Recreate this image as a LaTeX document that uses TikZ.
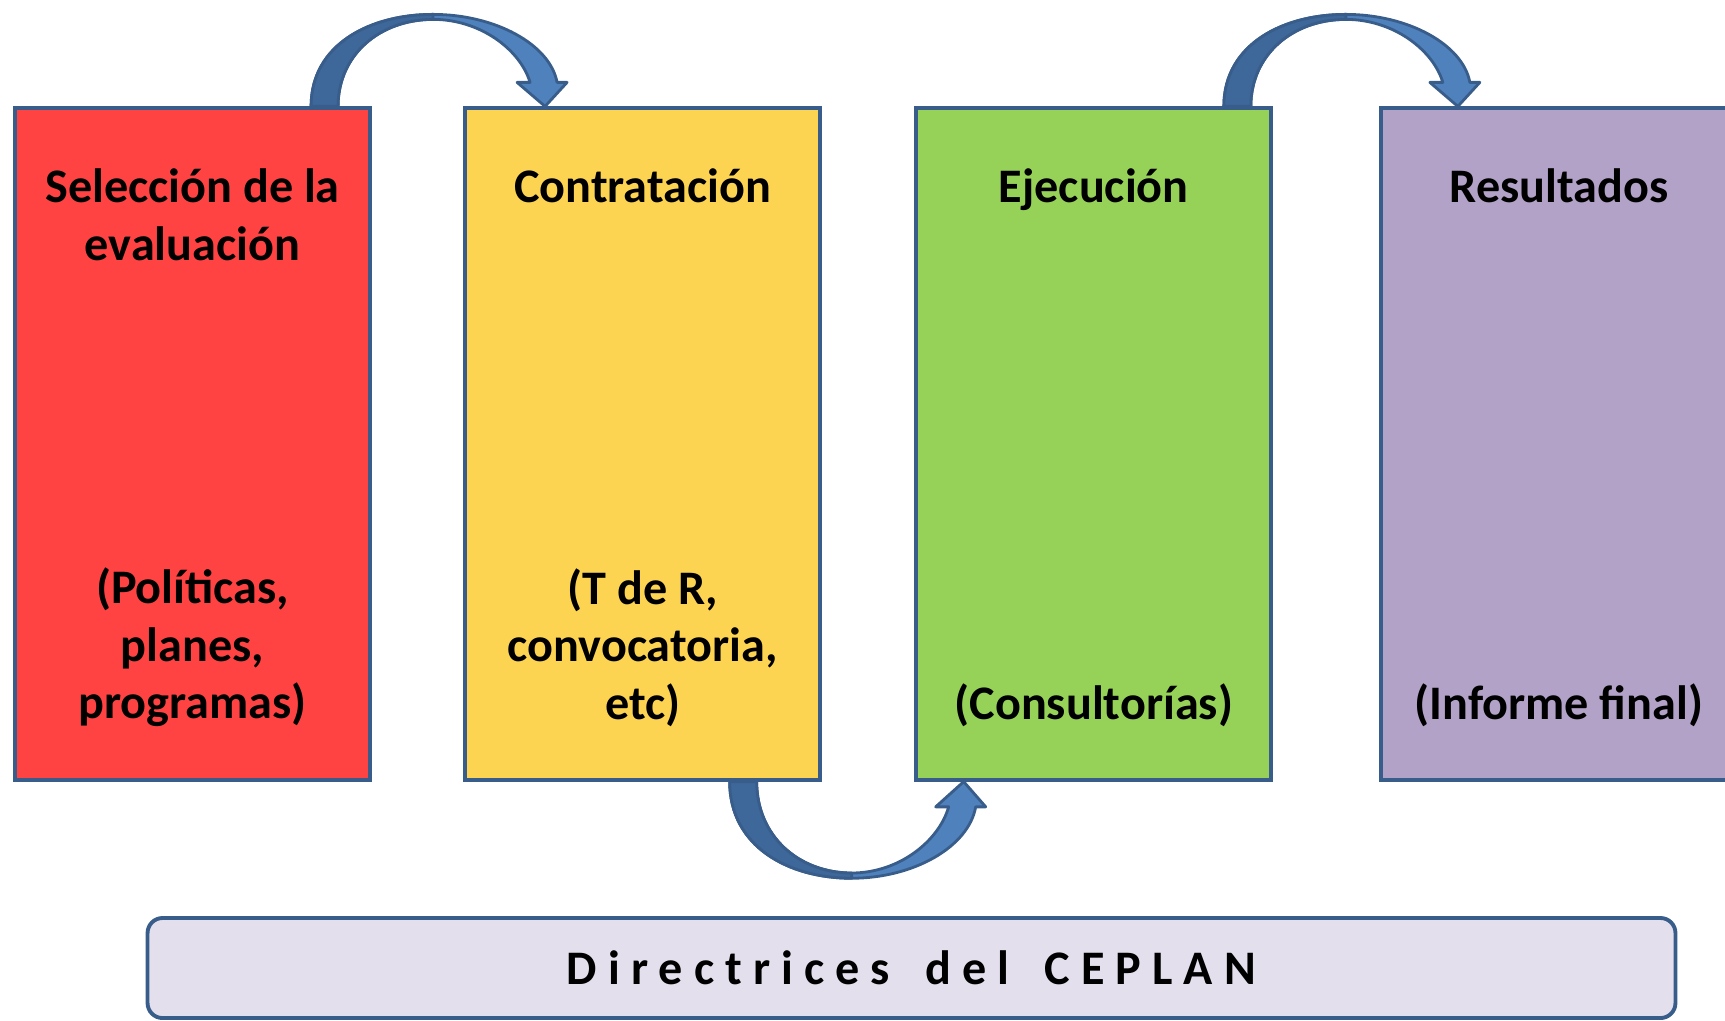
\documentclass[tikz,border=0pt]{standalone}
\usepackage{fontspec}
\setmainfont{Carlito}
\newfontfamily\espaciada[LetterSpace=23, WordSpace=1.6]{Carlito}
\usetikzlibrary{positioning}

\definecolor{rojo}{RGB}{255,67,67}
\definecolor{amarillo}{RGB}{253,212,82}
\definecolor{verde}{RGB}{151,210,88}
\definecolor{lila}{RGB}{178,162,199}
\definecolor{lavanda}{RGB}{228,223,236}
\definecolor{borde}{RGB}{56,93,138}
\definecolor{azulclaro}{RGB}{79,129,189}
\definecolor{azuloscuro}{RGB}{62,103,154}

\begin{document}
\begin{tikzpicture}[
        x=0.01cm, y=-0.01cm,
        caja/.style={draw=borde, line width=1.1pt, minimum width=3.55cm,
          minimum height=6.71cm, inner sep=0pt},
        titulo/.style={font=\bfseries\fontsize{13.7}{16.4}\selectfont,
          align=center, inner sep=0pt},
        barra/.style={draw=borde, line width=1.1pt, fill=lavanda,
          rounded corners=0.15cm, minimum width=15.27cm, minimum height=1.0cm,
          font=\bfseries\fontsize{13.7}{16.4}\selectfont},
        flecha/.pic={
          % cara clara
          \filldraw[fill=azulclaro, draw=borde, line width=0.8pt, line join=round]
            (0,0) .. controls (0,-62) and (59,-92) .. (122,-92)
            .. controls (184,-92) and (239,-62) .. (246,-24)
            -- (256,-24) -- (234,0) -- (206,-24) -- (219,-24)
            .. controls (209,-57) and (169,-87) .. (122,-87)
            .. controls (69,-87) and (27,-52) .. (27,0) -- cycle;
          % cara oscura
          \filldraw[fill=azuloscuro, draw=borde, line width=0.8pt, line join=round]
            (0,0) .. controls (0,-62) and (59,-92) .. (122,-92)
            -- (122,-87) .. controls (69,-87) and (27,-52) .. (27,0) -- cycle;
        }]
        % marco
        \useasboundingbox (0,0) rectangle (1725,1020);
        \clip (0,0) rectangle (1725,1020);
        % cajas de las etapas
        \node[caja, fill=rojo] (seleccion) at (192.5,444) {};
        \node[caja, fill=amarillo, right=0.91cm of seleccion] (contratacion) {};
        \node[caja, fill=verde, right=0.92cm of contratacion] (ejecucion) {};
        \node[caja, fill=lila, right=1.06cm of ejecucion] (resultados) {};
        % titulos
        \node[titulo, below=0.62cm of seleccion.north] (seleccionT) {Selección de la\\evaluación};
        \node[titulo, below=0.62cm of contratacion.north] (contratacionT) {Contratación};
        \node[titulo, below=0.62cm of ejecucion.north] (ejecucionT) {Ejecución};
        \node[titulo, below=0.62cm of resultados.north] (resultadosT) {Resultados};
        % notas
        \node[titulo, above=0.54cm of seleccion.south] (seleccionN) {(Políticas,\\planes,\\programas)};
        \node[titulo, above=0.54cm of contratacion.south] (contratacionN) {(T de R,\\convocatoria,\\etc)};
        \node[titulo, above=0.54cm of ejecucion.south] (ejecucionN) {(Consultorías)};
        \node[titulo, above=0.54cm of resultados.south] (resultadosN) {(Informe final)};
        % flechas curvas
        \pic at ([xshift=1.185cm]seleccion.north) {flecha};
        \pic[yscale=-1.05] at ([xshift=0.87cm]contratacion.south) {flecha};
        \pic at ([xshift=1.30cm]ejecucion.north) {flecha};
        % barra inferior
        \node[barra] (ceplan) at (911.5,968) {\espaciada Directrices del CEPLAN};
      \end{tikzpicture}
\end{document}
